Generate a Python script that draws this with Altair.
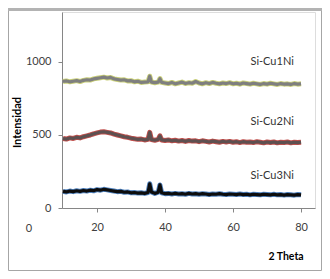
import altair as alt
import pandas as pd

theta = [10, 11, 12, 13, 14, 15, 16, 17, 18, 19, 20, 21, 22, 23, 24, 25, 26, 27, 28, 29,
         30, 31, 32, 33, 34, 35, 35.5, 36, 37, 38, 38.5, 39, 40, 41, 42, 43, 44, 45, 46, 47,
         48, 49, 50, 51, 52, 53, 54, 55, 56, 57, 58, 59, 60, 61, 62, 63, 64, 65, 66, 67,
         68, 69, 70, 71, 72, 73, 74, 75, 76, 77, 78, 79, 80]

cu1ni = [866, 870, 864, 868, 872, 866, 874, 878, 876, 884, 888, 892, 896, 890, 894, 884, 880, 876, 878, 870,
         872, 864, 868, 860, 862, 864, 902, 862, 858, 862, 886, 860, 856, 852, 860, 850, 856, 862, 852, 858,
         854, 866, 856, 850, 858, 852, 860, 854, 850, 856, 852, 858, 850, 854, 848, 856, 852, 848, 854, 850,
         846, 852, 848, 854, 850, 846, 852, 848, 850, 846, 852, 848, 850]

cu2ni = [476, 472, 480, 476, 484, 480, 488, 494, 500, 508, 514, 520, 522, 518, 514, 506, 500, 494, 488, 484,
         478, 474, 470, 472, 466, 470, 518, 468, 464, 470, 494, 466, 462, 466, 460, 464, 458, 462, 456, 462,
         458, 460, 454, 460, 456, 452, 458, 454, 450, 456, 452, 456, 450, 454, 448, 454, 450, 452, 448, 454,
         450, 446, 452, 448, 452, 446, 450, 448, 452, 446, 450, 448, 450]

cu3ni = [114, 110, 116, 112, 118, 114, 120, 116, 122, 118, 126, 122, 128, 124, 120, 116, 112, 114, 108, 110,
         104, 106, 102, 104, 100, 106, 166, 110, 100, 108, 158, 104, 98, 100, 96, 100, 96, 98, 94, 100,
         96, 98, 94, 98, 96, 92, 96, 94, 98, 94, 92, 96, 94, 92, 96, 92, 94, 90, 94, 92,
         90, 94, 92, 90, 94, 90, 92, 88, 92, 90, 88, 92, 90]

series_names = ["Si-Cu1Ni", "Si-Cu2Ni", "Si-Cu3Ni"]
outer_colors = ["#c9cf7a", "#c0504d", "#4f81bd"]
inner_colors = ["#7f7f7f", "#5e5050", "#0d0d0d"]
label_x = [71.5, 71.5, 71.5]
label_y = [1000, 590, 220]

rows = []
for name, vals in zip(series_names, [cu1ni, cu2ni, cu3ni]):
    for t, v in zip(theta, vals):
        rows.append({"theta": t, "value": v, "series": name})
df = pd.DataFrame(rows)
labels_df = pd.DataFrame({"series": series_names, "x": label_x, "y": label_y})

W, H = 253, 196
FONT = "Lato"

xscale = alt.Scale(domain=[9.7, 84.1], nice=False, zero=False)
yscale = alt.Scale(domain=[0, 1342], nice=False)

base = alt.Chart(df)

outer = base.mark_line(strokeWidth=5, strokeJoin="round").encode(
    x=alt.X("theta:Q", scale=xscale,
            axis=alt.Axis(values=[20, 40, 60, 80], title=None, grid=False, format="d",
                          tickSize=4, labelPadding=9, labelFont=FONT, labelFontSize=11,
                          labelColor="#404040", domainColor="#868686", tickColor="#868686")),
    y=alt.Y("value:Q", scale=yscale,
            axis=alt.Axis(values=[0, 500, 1000], title=None, grid=False, format="d",
                          tickSize=4, labelPadding=7, labelFont=FONT, labelFontSize=11,
                          labelColor="#404040", domainColor="#868686", tickColor="#868686")),
    color=alt.Color("series:N", scale=alt.Scale(domain=series_names, range=outer_colors), legend=None),
    detail="series:N",
)

inner = base.mark_line(strokeWidth=3.2, strokeJoin="round").encode(
    x=alt.X("theta:Q", scale=xscale),
    y=alt.Y("value:Q", scale=yscale),
    stroke=alt.Stroke("series:N", scale=alt.Scale(domain=series_names, range=inner_colors), legend=None),
    detail="series:N",
)

labels = alt.Chart(labels_df).mark_text(font=FONT, fontSize=11, color="#333333").encode(
    x=alt.X("x:Q", scale=xscale),
    y=alt.Y("y:Q", scale=yscale),
    text="series:N",
)

zero_df = pd.DataFrame({"x": [0], "t": ["0"]})
zero_label = alt.Chart(zero_df).mark_text(font=FONT, fontSize=11, color="#404040",
                                          baseline="middle").encode(
    x=alt.X("x:Q", scale=xscale),
    y=alt.value(H + 21),
    text="t:N",
)

titles_df = pd.DataFrame({"t": ["Intensidad"]})
ytitle = alt.Chart(titles_df).mark_text(font=FONT, fontSize=11, fontWeight="bold", angle=270,
                                        color="#000000", baseline="middle").encode(
    x=alt.value(17.5 - 62), y=alt.value(122.5 - 12), text="t:N")

xt_df = pd.DataFrame({"t": ["2 Theta"]})
xtitle = alt.Chart(xt_df).mark_text(font=FONT, fontSize=10.5, fontWeight="bold",
                                    color="#000000", baseline="middle").encode(
    x=alt.value(286 - 62), y=alt.value(257 - 12), text="t:N")

frame_df = pd.DataFrame({"k": [1]})
frame = alt.Chart(frame_df).mark_rect(fill=None, stroke="#a6a6a6", strokeWidth=1).encode(
    x=alt.value(-53.5), x2=alt.value(259.5), y=alt.value(-3.5), y2=alt.value(258.5))
topbar = alt.Chart(frame_df).mark_rule(stroke="#b3b3b3", strokeWidth=3).encode(
    x=alt.value(-54), x2=alt.value(260), y=alt.value(-2.5))

chart = alt.layer(frame, topbar, outer, inner, labels, zero_label, ytitle, xtitle).properties(
    width=W, height=H,
    autosize=alt.AutoSizeParams(type="none"),
    padding={"left": 54, "top": 4, "right": 7, "bottom": 63},
).configure_view(stroke=None).configure(background="white")

chart.save("out.html", embed_options={"renderer": "svg", "actions": False})
